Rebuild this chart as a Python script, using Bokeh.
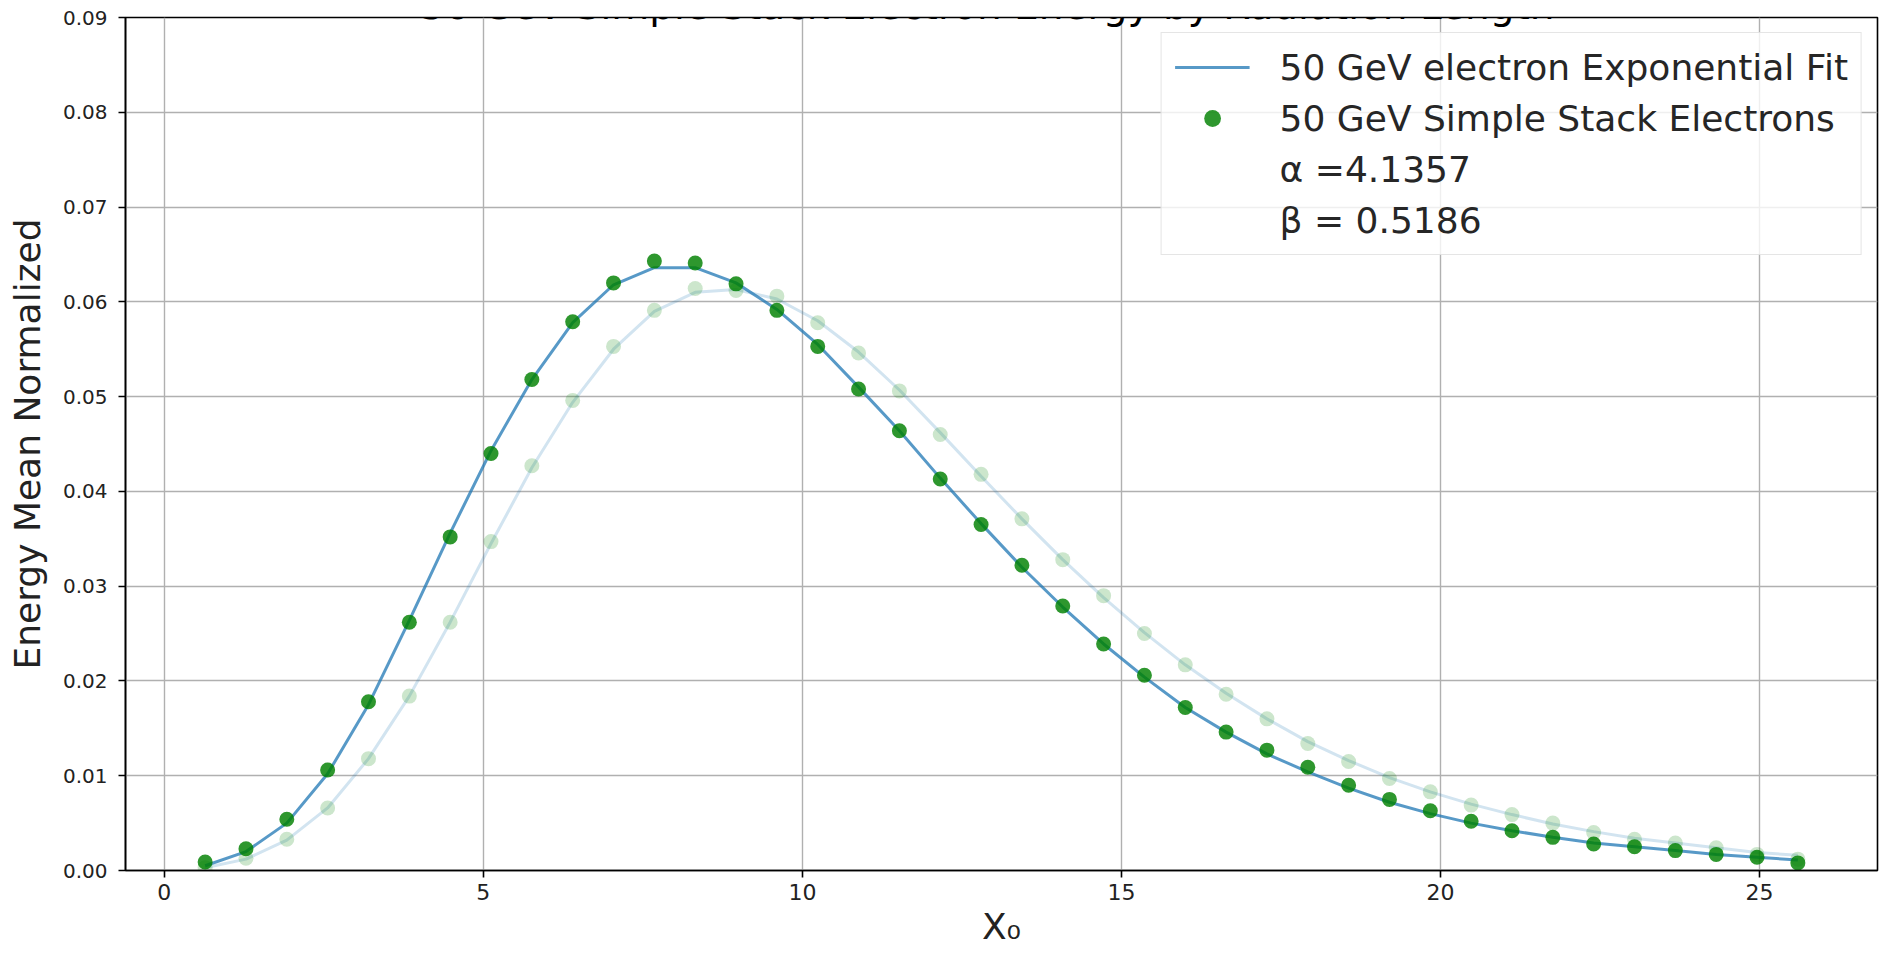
from bokeh.plotting import figure
from bokeh.models import Legend, LegendItem, Label, NumeralTickFormatter, FixedTicker, ColumnDataSource
from bokeh.embed import file_html
from bokeh.resources import INLINE

# depth in radiation lengths (one value per layer)
x0 = [0.64, 1.28, 1.92, 2.56, 3.20, 3.84, 4.48, 5.12, 5.76, 6.40,
      7.04, 7.68, 8.32, 8.96, 9.60, 10.24, 10.88, 11.52, 12.16, 12.80,
      13.44, 14.08, 14.72, 15.36, 16.00, 16.64, 17.28, 17.92, 18.56, 19.20,
      19.84, 20.48, 21.12, 21.76, 22.40, 23.04, 23.68, 24.32, 24.96, 25.60]

# 50 GeV simple stack electrons: normalised mean energy per layer
electrons_50 = [0.0009, 0.0023, 0.0054, 0.0106, 0.0178, 0.0262, 0.0352, 0.0440, 0.0518, 0.0579,
                0.0620, 0.0643, 0.0641, 0.0619, 0.0591, 0.0553, 0.0508, 0.0464, 0.0413, 0.0365,
                0.0322, 0.0279, 0.0239, 0.0206, 0.0172, 0.0146, 0.0127, 0.0109, 0.0090, 0.0075,
                0.0063, 0.0052, 0.0042, 0.0035, 0.0028, 0.0025, 0.0021, 0.0017, 0.0014, 0.0008]

# gamma-profile fit to the 50 GeV electrons
fit_50 = [0.0005, 0.0020, 0.0050, 0.0102, 0.0175, 0.0264, 0.0356, 0.0443, 0.0518, 0.0578,
          0.0618, 0.0636, 0.0636, 0.0620, 0.0592, 0.0555, 0.0510, 0.0464, 0.0414, 0.0366,
          0.0320, 0.0278, 0.0239, 0.0204, 0.0172, 0.0146, 0.0123, 0.0104, 0.0087, 0.0072,
          0.0060, 0.0050, 0.0042, 0.0035, 0.0029, 0.0025, 0.0021, 0.0017, 0.0014, 0.0011]

# comparison run, drawn faintly behind
electrons_ref = [0.0003, 0.0013, 0.0033, 0.0066, 0.0118, 0.0184, 0.0262, 0.0347, 0.0427, 0.0496,
                 0.0553, 0.0591, 0.0614, 0.0612, 0.0606, 0.0578, 0.0546, 0.0506, 0.0460, 0.0418,
                 0.0371, 0.0328, 0.0290, 0.0250, 0.0217, 0.0186, 0.0160, 0.0134, 0.0115, 0.0097,
                 0.0083, 0.0069, 0.0059, 0.0050, 0.0040, 0.0033, 0.0029, 0.0024, 0.0017, 0.0012]

fit_ref = [0.0003, 0.0012, 0.0032, 0.0066, 0.0118, 0.0184, 0.0262, 0.0345, 0.0425, 0.0494,
           0.0550, 0.0590, 0.0610, 0.0613, 0.0603, 0.0580, 0.0547, 0.0507, 0.0462, 0.0416,
           0.0371, 0.0328, 0.0288, 0.0251, 0.0217, 0.0187, 0.0160, 0.0136, 0.0116, 0.0098,
           0.0083, 0.0070, 0.0059, 0.0049, 0.0041, 0.0034, 0.0029, 0.0024, 0.0019, 0.0016]

x_ticks = [0, 5, 10, 15, 20, 25]
y_ticks = [0.00, 0.01, 0.02, 0.03, 0.04, 0.05, 0.06, 0.07, 0.08, 0.09]

title_text = "50 GeV Simple Stack Electron Energy by Radiation Length"
fit_label = "50 GeV electron Exponential Fit"
data_label = "50 GeV Simple Stack Electrons"
alpha_label = "α =4.1357"
beta_label = "β = 0.5186"

FONT = "DejaVu Sans"

src = ColumnDataSource(dict(x=x0, e50=electrons_50, f50=fit_50, eref=electrons_ref, fref=fit_ref))

p = figure(width=1887, height=953, output_backend="svg", toolbar_location=None,
           title=None, x_range=(-0.608, 26.848), y_range=(0.0, 0.09),
           min_border_left=125, min_border_right=10, min_border_top=17, min_border_bottom=83,
           background_fill_color="white", border_fill_color="white")

p.outline_line_color = "black"
p.outline_line_width = 1.6

# faint comparison series
p.line("x", "fref", source=src, line_color="#1f77b4", line_alpha=0.2, line_width=3)
p.scatter("x", "eref", source=src, size=15, fill_color="green", line_color="green",
          fill_alpha=0.2, line_alpha=0.0)

# main series
fit_r = p.line("x", "f50", source=src, line_color="#1f77b4", line_alpha=0.75, line_width=3)
pts_r = p.scatter("x", "e50", source=src, size=15, fill_color="green", line_color="green",
                  fill_alpha=0.82, line_alpha=0.0)

# parameter rows in the legend carry no marker
blank_a = p.scatter(x=[], y=[], size=1, fill_alpha=0.0, line_alpha=0.0)
blank_b = p.scatter(x=[], y=[], size=1, fill_alpha=0.0, line_alpha=0.0)

legend = Legend(items=[
    LegendItem(label=fit_label, renderers=[fit_r]),
    LegendItem(label=data_label, renderers=[pts_r]),
    LegendItem(label=alpha_label, renderers=[blank_a]),
    LegendItem(label=beta_label, renderers=[blank_b]),
], location="top_right", margin=15, padding=13, spacing=9,
   glyph_width=75, glyph_height=42, label_height=42, label_standoff=30,
   label_text_font=FONT, label_text_font_size="36px", label_text_color="#262626",
   border_line_color="#cccccc", border_line_width=1.5,
   background_fill_color="white", background_fill_alpha=0.8)
p.add_layout(legend, "center")

# axes
p.xaxis.ticker = FixedTicker(ticks=x_ticks)
p.yaxis.ticker = FixedTicker(ticks=y_ticks)
p.yaxis.formatter = NumeralTickFormatter(format="0.00")

for ax in (p.xaxis, p.yaxis):
    ax.axis_line_color = "black"
    ax.axis_line_width = 1.6
    ax.major_tick_line_color = "black"
    ax.major_tick_line_width = 1.6
    ax.major_tick_out = 7
    ax.major_tick_in = 0
    ax.minor_tick_line_color = None
    ax.major_label_text_font = FONT
    ax.major_label_text_color = "#222222"
    ax.axis_label_text_font = FONT
    ax.axis_label_text_font_style = "normal"
    ax.axis_label_text_color = "#222222"
    ax.axis_label_text_font_size = "36px"

p.xaxis.major_label_text_font_size = "22px"
p.yaxis.major_label_text_font_size = "20px"
p.xaxis.major_label_standoff = 6
p.yaxis.major_label_standoff = 11
p.xaxis.axis_label = "X₀"
p.yaxis.axis_label = "Energy Mean Normalized"
p.xaxis.axis_label_standoff = 3
p.yaxis.axis_label_standoff = 12

p.grid.grid_line_color = "#b0b0b0"
p.grid.grid_line_width = 1.4

# title sits just above the frame, running off the top of the page
p.add_layout(Label(x=12.9, y=0.0913, text=title_text, text_align="center",
                   text_baseline="alphabetic", text_font=FONT, text_font_size="39px",
                   text_color="black"))

open("out.html", "w").write(file_html(p, INLINE))
